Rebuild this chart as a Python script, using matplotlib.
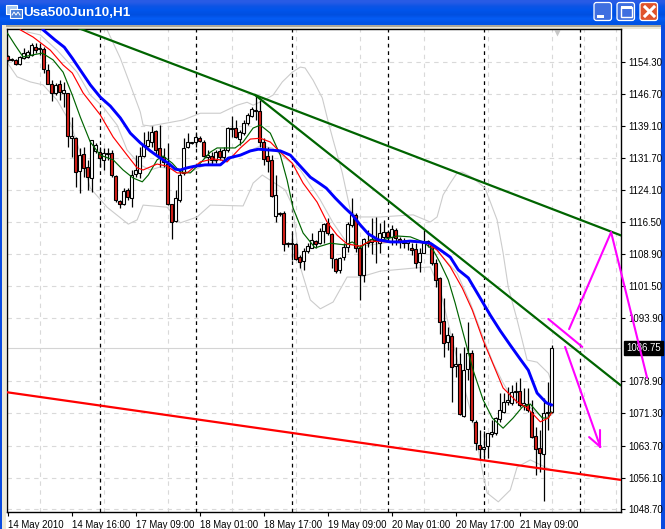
import numpy as np
import matplotlib
matplotlib.use('Agg')
import matplotlib.pyplot as plt
from matplotlib.patches import Rectangle, FancyBboxPatch

W, H = 665, 529

### Candles, one hourly bar each
opens = [1155.7,1155.1,1154.8,1153.8,1155.2,1155.5,1156.0,1157.8,1157.4,1157.4,
         1152.4,1149.1,1147.0,1149.1,1147.0,1147.0,1136.3,1136.3,1128.5,1132.6,
         1129.5,1126.9,1133.3,1133.0,1131.2,1132.6,1132.8,1127.4,1121.5,1120.8,
         1124.1,1122.2,1127.8,1128.1,1132.1,1134.5,1135.4,1138.0,1134.0,1131.9,
         1130.2,1120.8,1116.7,1121.7,1128.1,1134.2,1135.1,1135.4,1136.3,1135.4,
         1131.9,1132.1,1131.2,1133.3,1131.9,1133.5,1138.4,1138.7,1136.1,1137.5,
         1139.9,1141.5,1142.8,1142.7,1135.4,1132.1,1131.2,1117.9,1118.4,1118.6,
         1111.4,1111.4,1111.3,1108.2,1107.3,1109.6,1110.4,1112.0,1111.5,1114.4,
         1116.3,1113.7,1107.8,1105.2,1108.2,1110.6,1115.8,1118.2,1110.4,1104.0,
         1111.6,1111.8,1112.3,1111.5,1112.9,1114.1,1112.9,1114.6,1112.5,1111.8,
         1111.5,1110.4,1110.1,1107.1,1109.2,1111.5,1111.1,1106.8,1103.3,1093.1,
         1088.1,1089.6,1082.5,1083.0,1070.7,1081.8,1085.6,1069.3,1063.8,1062.9,
         1063.6,1066.4,1066.7,1070.0,1071.6,1074.0,1073.8,1076.3,1076.6,1073.2,
         1073.5,1071.6,1066.0,1063.1,1061.7,1071.4,1071.6]
highs = [1156.0,1155.2,1155.0,1155.7,1157.6,1157.1,1158.8,1158.8,1158.8,1157.8,
         1153.8,1150.0,1149.3,1150.0,1149.6,1147.0,1141.3,1136.6,1134.0,1134.2,
         1131.2,1135.9,1135.2,1134.2,1134.0,1134.0,1133.5,1127.6,1121.7,1124.5,
         1124.5,1128.8,1132.3,1134.2,1137.8,1138.0,1139.2,1138.2,1139.4,1134.0,
         1135.2,1120.8,1124.1,1128.8,1136.3,1137.5,1135.4,1137.8,1136.8,1135.9,
         1133.5,1133.0,1133.5,1134.0,1134.2,1139.0,1141.5,1140.6,1138.2,1140.6,
         1142.2,1143.7,1146.5,1145.3,1136.3,1134.2,1132.3,1127.6,1118.9,1119.1,
         1111.8,1113.9,1111.5,1108.7,1110.4,1111.5,1113.9,1112.3,1115.1,1116.3,
         1117.4,1113.9,1108.0,1108.2,1111.5,1116.5,1122.2,1118.6,1111.1,1112.7,
         1114.6,1117.4,1117.7,1116.3,1117.0,1114.6,1115.8,1115.1,1113.0,1112.7,
         1112.3,1111.5,1111.5,1110.4,1114.6,1112.3,1111.5,1107.8,1103.5,1098.6,
         1091.7,1090.3,1087.0,1085.6,1087.0,1092.9,1086.3,1069.7,1067.4,1067.1,
         1066.7,1069.7,1070.5,1076.1,1076.1,1077.5,1078.0,1078.7,1079.7,1077.3,
         1077.3,1074.5,1068.1,1067.4,1074.9,1078.7,1087.5]
lows = [1154.5,1154.5,1153.6,1153.6,1155.0,1155.2,1155.7,1156.4,1156.0,1151.7,
        1149.1,1145.1,1146.5,1145.3,1143.7,1134.2,1131.9,1124.8,1123.4,1127.1,
        1124.1,1123.6,1132.8,1129.5,1128.8,1131.2,1127.1,1121.2,1119.8,1120.5,
        1121.7,1120.0,1127.1,1126.9,1131.9,1134.2,1134.2,1132.6,1129.5,1129.5,
        1120.5,1112.5,1116.5,1121.2,1127.6,1134.0,1134.9,1134.2,1135.4,1131.9,
        1130.0,1130.0,1130.4,1131.2,1131.2,1133.0,1136.6,1136.3,1134.7,1137.0,
        1139.4,1141.3,1140.6,1134.2,1130.0,1128.3,1122.4,1116.5,1117.9,1109.6,
        1110.6,1107.5,1107.5,1105.6,1105.2,1109.2,1110.4,1110.4,1111.3,1111.5,
        1113.4,1105.6,1104.5,1104.5,1107.5,1109.4,1115.3,1109.4,1098.1,1102.3,
        1110.6,1108.9,1106.8,1109.2,1112.0,1111.8,1111.1,1111.1,1110.4,1110.4,
        1109.9,1108.7,1105.6,1104.7,1109.2,1110.6,1106.3,1101.1,1090.0,1084.6,
        1086.3,1074.0,1080.0,1070.9,1070.4,1079.2,1069.3,1062.6,1060.3,1061.0,
        1060.8,1065.7,1066.2,1069.3,1071.4,1073.3,1073.3,1073.8,1072.8,1072.1,
        1071.6,1065.5,1056.7,1057.4,1050.6,1067.4,1071.4]
closes = [1154.8,1154.8,1153.8,1155.4,1156.4,1156.7,1158.3,1157.1,1157.6,1152.6,
          1149.1,1147.0,1148.9,1147.2,1147.7,1136.8,1136.8,1128.3,1132.3,1129.3,
          1127.1,1135.9,1134.7,1131.6,1132.8,1132.8,1127.6,1121.7,1120.8,1123.8,
          1122.4,1127.6,1128.8,1132.1,1134.7,1135.9,1137.8,1133.5,1131.9,1130.7,
          1120.8,1116.5,1122.2,1127.6,1134.0,1135.4,1135.2,1136.6,1135.6,1132.1,
          1132.3,1131.2,1133.0,1131.9,1133.5,1138.7,1138.5,1136.6,1137.8,1139.9,
          1141.8,1143.2,1143.0,1135.4,1131.4,1130.9,1122.6,1122.9,1118.6,1111.3,
          1111.6,1111.6,1107.8,1107.1,1109.6,1110.9,1112.3,1111.3,1114.4,1116.0,
          1113.9,1108.0,1104.9,1108.0,1110.6,1116.0,1118.2,1110.4,1104.0,1112.5,
          1111.8,1112.5,1112.0,1113.9,1114.1,1112.9,1114.9,1112.7,1111.8,1111.5,
          1112.0,1109.9,1106.8,1109.2,1111.5,1112.0,1106.8,1102.8,1092.9,1087.9,
          1089.8,1082.2,1083.0,1071.2,1081.5,1085.6,1069.7,1064.3,1062.9,1063.4,
          1066.7,1066.9,1070.2,1072.1,1074.0,1074.5,1076.4,1076.6,1073.3,1073.7,
          1072.1,1065.7,1062.9,1061.9,1071.4,1071.6,1086.75]

### Indicator lines, bar and price pairs
blue_x = [8.9,11.9,14.2,16.2,18.2,20.7,23.2,25.7,28.2,30.7,33.2,35.7,38.2,40.2,41.9,43.2,44.9,46.9,49.4,53.2,
          55.2,58.2,60.7,62.7,65.7,68.2,70.7,72.7,75.7,78.2,79.7,81.9,84.4,86.2,88.2,90.2,92.7,95.7,98.2,100.7,
          103.2,105.7,108.2,110.7,112.7,115.2,117.7,120.7,123.2,125.7,128.2,130.2,132.4,134.7,136]
blue_y = [1161.9,1159.5,1157.8,1155.2,1152.4,1148.9,1146.0,1143.9,1141.1,1137.5,1135.2,1133.3,1131.6,1130.4,1129.0,1128.8,1129.3,1129.7,1130.0,1130.0,
          1131.6,1132.3,1133.3,1133.7,1133.5,1133.3,1132.3,1130.2,1127.1,1125.5,1124.5,1122.2,1119.8,1118.2,1115.8,1113.7,1112.3,1111.8,1111.8,1112.0,
          1111.8,1111.5,1109.9,1108.2,1105.2,1103.3,1099.3,1094.5,1090.8,1087.4,1084.1,1081.5,1076.1,1073.8,1073.3]
red_x = [3.2,6.4,10.7,13.9,16.2,18.9,23.2,26.4,29.9,32.4,33.9,37.4,39.9,42.4,44.9,48.2,51.4,53.2,54.9,58.2,60.7,63.2,65.7,
         68.2,71.2,73.9,77.4,79.9,82.4,84.9,88.2,90.7,94.9,99.9,104.9,107.4,110.7,113.7,116.2,118.9,121.2,123.9,127.4,129.9,133.2,135.2,136]
red_y = [1161.9,1160.2,1157.1,1153.6,1151.7,1147.0,1141.8,1136.6,1132.3,1129.3,1128.8,1130.2,1129.7,1128.1,1128.1,1130.7,1131.4,1131.2,1130.7,1134.0,1136.1,1136.3,1135.4,
         1133.0,1130.4,1125.7,1121.2,1116.5,1113.4,1111.3,1110.8,1112.0,1111.8,1112.0,1111.5,1109.9,1105.9,1100.9,1095.7,1088.6,1083.4,1077.3,1074.0,1072.6,1069.3,1070.2,1071.4]
green_x = [0,1.9,3.9,6.4,8.7,11.4,13.9,16.2,18.2,20.7,23.2,26.4,28.9,31.4,33.7,35.2,37.4,38.9,41.2,43.2,45.7,48.2,50.7,52.4,56.9,58.9,61.4,63.2,65.7,68.2,69.9,
           71.4,73.9,76.9,80.7,84.4,86.2,88.2,90.7,93.9,97.4,100.7,103.9,106.4,108.2,110.2,111.9,113.7,116.4,118.9,121.2,123.9,126.4,128.7,130.7,133.7,135.2,136]
green_y = [1161.1,1158.3,1155.5,1156.0,1156.4,1154.8,1151.9,1146.5,1141.3,1135.4,1132.3,1131.2,1128.8,1126.9,1126.0,1127.6,1131.2,1132.1,1130.4,1128.3,1128.1,1130.4,1133.0,1134.0,1134.0,1135.4,1138.7,1139.4,1137.5,1132.3,1126.4,
           1119.8,1113.9,1110.4,1111.5,1111.1,1111.8,1110.4,1112.3,1112.3,1113.2,1113.0,1111.8,1109.9,1106.8,1102.8,1097.4,1091.0,1081.5,1074.5,1070.2,1067.8,1070.2,1072.8,1073.5,1070.2,1070.2,1071.6]
upper_x = [24.9,28.2,30.7,33.2,33.9,35.7,39.9,43.9,48.2,53.2,57.4,59.9,61.4,64.2,66.4,68.7,71.2,73.2,74.4,76.4,78.7,80.2,81.4,83.7,85.7,87.4,93.2,
           101.4,105.7,107.4,108.9,110.7,112.4,113.7,116.4,119.4,122.4,123.9,125.2,127.4,129.9,132.4,135.2,136]
upper_y = [1161.9,1155.2,1148.9,1142.5,1139.4,1139.2,1139.9,1140.6,1142.2,1142.2,1144.1,1144.8,1144.1,1145.3,1146.5,1149.6,1151.9,1153.1,1152.9,1150.0,1145.8,1140.1,1135.9,1128.1,1119.3,1117.7,1117.7,
           1118.2,1116.5,1117.7,1122.9,1125.7,1128.1,1128.3,1126.9,1124.5,1117.0,1109.2,1101.1,1093.4,1083.9,1083.4,1080.8,1078.7]
mid_x = [4.9,8.2,12.4,17.4,20.7,23.9,27.4,29.9,33.2,35.7,38.2,41.9,45.7,49.4,53.2,58.2,63.2,66.2,69.4,73.2,78.2,81.4,84.9,88.2,98.2,105.7,
         112.4,115.7,118.9,121.4,123.9,126.4,129.9,133.9,136]
mid_y = [1161.4,1160.7,1157.1,1151.9,1146.5,1143.7,1139.4,1133.5,1130.0,1128.8,1129.5,1128.8,1128.3,1130.0,1131.2,1132.3,1134.5,1134.0,1131.6,1128.8,1121.7,1116.3,1111.5,1110.8,1112.0,1111.5,
         1104.4,1097.4,1089.3,1083.2,1078.5,1074.5,1073.3,1070.2,1070.9]
lower_x = [0,2.4,5.7,8.9,12.4,15.7,18.2,20.7,24.9,30.2,32.4,33.9,39.9,43.2,47.4,50.7,58.9,60.7,61.4,63.7,69.4,71.2,73.2,75.7,78.2,81.4,84.9,88.2,93.2,101.4,105.7,
           108.2,111.2,113.7,115.7,116.4,118.7,119.9,122.7,125.7,127.4,130.7,136]
lower_y = [1154.1,1150.8,1149.6,1148.9,1145.3,1139.9,1132.8,1124.5,1120.0,1116.0,1117.0,1120.5,1120.0,1116.3,1117.7,1120.5,1120.3,1124.1,1125.7,1127.6,1124.1,1120.5,1105.9,1098.1,1096.0,1097.6,1103.5,1103.5,1104.9,1105.6,1105.9,
           1100.4,1088.6,1079.2,1072.1,1069.0,1057.9,1052.5,1050.4,1053.2,1058.6,1060.3,1057.9]

### Hand drawn trend lines and arrows
trend1_x, trend1_y = [17.5, 61.9, 153.2], [1162.4, 1146.5, 1113.4]
trend2_x, trend2_y = [61.9, 153.2], [1146.5, 1078.0]
floor_x, floor_y = [-0.2, 153.2], [1076.3, 1055.6]
pink_segments = [([135.2, 143.7], [1093.6, 1087.0]),
                 ([140.4, 150.9], [1091.2, 1114.1]),
                 ([150.9, 159.9], [1114.1, 1079.7]),
                 ([139.4, 148.2], [1087.0, 1063.4]),
                 ([145.4, 148.2], [1065.7, 1063.4]),
                 ([148.2, 148.2], [1067.4, 1063.4])]

price_ticks = [1154.30,1146.70,1139.10,1131.70,1124.10,1116.50,1108.90,1101.50,1093.90,
               1078.90,1071.30,1063.70,1056.10,1048.70]
time_labels = ['14 May 2010','14 May 16:00','17 May 09:00','18 May 01:00','18 May 17:00',
               '19 May 09:00','20 May 01:00','20 May 17:00','21 May 09:00']
day_lines = [23, 47, 71, 95, 119, 143]
last_price = 1086.75

plt.rcParams['font.family'] = ['Liberation Sans', 'DejaVu Sans']
fig = plt.figure(figsize=(W/100, H/100), dpi=100, facecolor='white')

### Window frame, drawn in pixel coordinates
bg = fig.add_axes([0, 0, 1, 1], zorder=0)
bg.set_xlim(0, W)
bg.set_ylim(H, 0)
bg.axis('off')
grad = np.array([[0.16,0.36,0.90],[0.05,0.33,0.90],[0.00,0.33,0.92],[0.00,0.31,0.88],[0.02,0.36,0.96],[0.00,0.33,0.90]])
bg.imshow(grad[:, None, :], extent=(0, W, 25, 0), aspect='auto', interpolation='bilinear')
bg.set_xlim(0, W)
bg.set_ylim(H, 0)
bg.add_patch(Rectangle((0, 25), W, 2, color='#aca899', lw=0))
bg.add_patch(Rectangle((0, 27), W, 2, color='#ece9d8', lw=0))
bg.add_patch(Rectangle((2, 25), 4, H-25, color='#ece9d8', lw=0))
bg.add_patch(Rectangle((0, 25), 2, H-25, color='#0a4be0', lw=0))
bg.add_patch(Rectangle((661, 25), 4, H-25, color='#0a4be0', lw=0))
bg.text(23.5, 12.5, 'Usa500Jun10,H1', color='white', fontsize=9.7, fontweight='bold',
        family='Liberation Sans', va='center', ha='left')
# window icon
bg.add_patch(Rectangle((6, 5), 11, 9, fc='#a8c8f0', ec='white', lw=0.8))
bg.add_patch(Rectangle((10, 9), 12, 9, fc='#4a80d8', ec='white', lw=0.8))
bg.plot([12, 14, 16, 18, 20], [15, 12, 15, 12, 15], color='white', lw=0.7)
# caption buttons
for bx, col in [(594, '#3f6fe0'), (617, '#3f6fe0'), (640, '#e0532a')]:
    bg.add_patch(FancyBboxPatch((bx, 2.5), 17.5, 18, boxstyle='round,pad=0,rounding_size=2.5',
                                fc=col, ec='white', lw=0.9))
bg.add_patch(Rectangle((597, 15), 7, 3, color='white', lw=0))
bg.add_patch(Rectangle((621, 7), 11, 10, fc='none', ec='white', lw=1))
bg.add_patch(Rectangle((621, 6), 11, 2.5, color='white', lw=0))
bg.plot([645, 654], [7, 16], color='white', lw=2.2)
bg.plot([654, 645], [7, 16], color='white', lw=2.2)

### Chart area
px_left, px_right, px_top, px_bottom = 6.5, 620.5, 29, 512
ax = fig.add_axes([px_left/W, 1-px_bottom/H, (px_right-px_left)/W, (px_bottom-px_top)/H], zorder=1)
ax.set_facecolor('white')
ax.set_xlim(-0.25, 153.25)
ax.set_ylim(1048.0, 1162.1)

bars = np.arange(len(closes))
o = np.array(opens)
c = np.array(closes)

ax.set_xticks(bars[::16][:len(time_labels)])
ax.set_xticklabels(time_labels, ha='left', fontsize=6.9)
ax.set_xticks(np.arange(0, 154, 8), minor=True)
ax.set_yticks(price_ticks)
ax.set_yticklabels(['%.2f' % p for p in price_ticks], fontsize=6.9)
ax.yaxis.tick_right()
ax.tick_params(axis='both', which='major', length=3, width=0.8, pad=2.5, color='black', labelcolor='black')
ax.tick_params(axis='x', which='minor', length=0)
ax.grid(True, axis='x', which='minor', color='#d9d9d9', lw=0.8, dashes=(4, 4), zorder=1)
ax.grid(True, axis='y', which='major', color='#d9d9d9', lw=0.8, dashes=(4, 4), zorder=1)
ax.set_axisbelow(True)
for s in ax.spines.values():
    s.set_linewidth(1.0)
    s.set_color('black')

ax.axhline(last_price, color='#d4d4d4', lw=0.8, zorder=1.5)
for d in day_lines:
    ax.axvline(d, color='black', lw=0.9, dashes=(3, 3), zorder=1.6)

### Grey bands under the candles
for xs, ys in [(upper_x, upper_y), (mid_x, mid_y), (lower_x, lower_y)]:
    ax.plot(xs, ys, color='#cccccc', lw=0.8, zorder=2)

ax.vlines(bars, lows, highs, color='black', lw=0.9, zorder=3)
ax.bar(bars, np.maximum(np.abs(c-o), 0.25), width=0.7, bottom=np.minimum(o, c),
       color=['white' if cl >= op else '#d8201a' for op, cl in zip(o, c)],
       edgecolor='black', linewidth=0.8, zorder=4)

ax.plot(green_x, green_y, color='#006400', lw=0.85, zorder=5)
ax.plot(red_x, red_y, color='#ff0000', lw=0.85, zorder=5)
ax.plot(blue_x, blue_y, color='#0000ff', lw=2.1, zorder=6)

ax.plot(trend1_x, trend1_y, color='#006400', lw=1.6, zorder=7)
ax.plot(trend2_x, trend2_y, color='#006400', lw=1.6, zorder=7)
ax.plot(floor_x, floor_y, color='#ff0000', lw=1.6, zorder=7)

### Price tag on the axis
ax.annotate('1086.75', xy=(626, H-348), xycoords='figure pixels', color='white', fontsize=6.9,
            va='center', ha='left', annotation_clip=False, zorder=9,
            bbox=dict(fc='black', ec='black', pad=1.5))

### Little grey marker at top of the chart
ax.plot([(557-7.5)/4], [1161.1], marker='v', ms=4.5, color='#c8c8c8', mec='none', clip_on=False, zorder=2)

for xs, ys in pink_segments:
    ax.plot(xs, ys, color='#ff00ff', lw=1.5, clip_on=False, zorder=10, solid_capstyle='round')

fig.savefig('out.png', dpi=100)
